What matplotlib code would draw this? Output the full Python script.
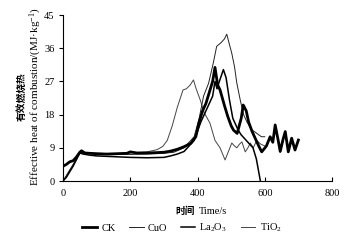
import matplotlib
matplotlib.use("Agg")
import matplotlib.pyplot as plt
from matplotlib.lines import Line2D

# ---- data ----
ck_t = [0, 10, 20, 30, 40, 50, 55, 65, 80, 100, 130, 160, 190, 200, 220, 250, 280, 300,
        320, 340, 360, 380, 395, 405, 415, 425, 435, 445, 452, 460, 467, 480, 490, 500,
        507, 518, 530, 536, 545, 552, 562, 572, 582, 591, 605, 616, 624, 631, 640, 646,
        655, 661, 670, 680, 690, 700]
ck_v = [4.0, 4.5, 5.2, 5.5, 6.5, 7.8, 8.2, 7.6, 7.5, 7.4, 7.3, 7.4, 7.5, 7.9, 7.6, 7.6, 7.7, 7.8,
        8.1, 8.6, 9.3, 10.2, 12.0, 16.0, 19.0, 21.0, 24.0, 27.0, 30.8, 26.0, 24.7, 20.5, 17.5, 15.0,
        13.8, 12.9, 17.0, 20.6, 19.0, 16.0, 13.5, 11.5, 9.5, 7.9, 9.5, 12.0, 10.5, 15.2, 11.0, 8.0,
        11.5, 13.4, 7.9, 11.6, 8.4, 11.1]

cuo_t = [0, 10, 20, 30, 40, 50, 60, 80, 100, 150, 200, 250, 300, 330, 360, 390, 405, 418,
         433, 447, 457, 470, 480, 487, 495, 502, 510, 517, 527, 537, 547, 560, 575, 590, 600]
cuo_v = [0.0, 1.5, 3.0, 4.5, 6.0, 7.8, 7.8, 7.5, 7.4, 7.3, 7.2, 7.3, 7.5, 7.8, 9.0, 12.0, 17.0, 23.0,
         26.5, 32.0, 36.5, 37.5, 38.5, 39.8, 37.0, 34.6, 31.0, 26.5, 22.0, 18.0, 16.0, 14.0, 13.0, 12.0, 12.0]

la_t = [0, 10, 20, 30, 40, 50, 60, 80, 100, 150, 200, 250, 300, 320, 340, 360, 390, 410,
        430, 445, 452, 458, 465, 477, 485, 495, 505, 521, 530, 540, 555, 565, 575, 583, 587]
la_v = [0.0, 1.0, 2.5, 4.0, 5.8, 7.6, 7.3, 7.0, 6.8, 6.6, 6.4, 6.3, 6.4, 6.8, 7.3, 8.0, 11.0, 16.0,
        20.0, 23.0, 27.0, 25.0, 27.0, 30.2, 28.0, 22.0, 17.0, 13.8, 12.5, 11.5, 10.0, 9.0, 6.0, 2.0, 0.0]

ti_t = [0, 10, 20, 30, 40, 50, 60, 80, 100, 150, 200, 250, 280, 297, 310, 325, 340, 357,
        367, 378, 388, 396, 408, 420, 437, 452, 467, 482, 492, 502, 510, 517, 525, 532, 542,
        550, 557, 566, 576, 588, 600]
ti_v = [0.0, 1.2, 2.8, 4.2, 6.0, 7.8, 7.7, 7.5, 7.5, 7.4, 7.6, 7.9, 8.5, 9.4, 11.0, 15.0, 20.0, 24.7,
        25.0, 26.0, 27.4, 25.0, 22.0, 18.5, 15.7, 11.0, 9.0, 5.7, 8.0, 10.3, 9.5, 9.0, 10.0, 10.6, 7.9,
        9.0, 10.3, 9.0, 11.0, 10.0, 9.5]

series_names = ["CK", "CuO", "La$_2$O$_3$", "TiO$_2$"]
x_ticks = [0, 200, 400, 600, 800]
y_ticks = [0, 9, 18, 27, 36, 45]

SERIF = ["Liberation Serif", "DejaVu Serif"]
CJK = ["Noto Sans CJK SC"]
plt.rcParams["font.family"] = SERIF
plt.rcParams["mathtext.fontset"] = "custom"
plt.rcParams["mathtext.rm"] = "Liberation Serif"
plt.rcParams["mathtext.it"] = "Liberation Serif"

fig = plt.figure(figsize=(3.43, 2.43), dpi=100)
ax = fig.add_axes([63 / 343, 1 - 181 / 243, (332 - 63) / 343, (181 - 15) / 243])

ax.plot(ck_t, ck_v, color="black", lw=2.0, label=series_names[0], zorder=5)
ax.plot(cuo_t, cuo_v, color="#222222", lw=0.7, label=series_names[1], zorder=3)
ax.plot(la_t, la_v, color="black", lw=1.1, label=series_names[2], zorder=4)
ax.plot(ti_t, ti_v, color="#444444", lw=0.7, label=series_names[3], zorder=2)

ax.set_xlim(0, 800)
ax.set_ylim(0, 45)
ax.set_xticks(x_ticks)
ax.set_yticks(y_ticks)
ax.spines["top"].set_visible(False)
ax.spines["right"].set_visible(False)
for s in ["left", "bottom"]:
    ax.spines[s].set_linewidth(0.8)
ax.tick_params(axis="x", direction="in", length=3, width=0.8, labelsize=7.5, pad=6)
ax.tick_params(axis="y", direction="out", length=3, width=0.8, labelsize=7.5, pad=3)
for lab in ax.get_xticklabels() + ax.get_yticklabels():
    lab.set_family(SERIF)

# y label: two lines
fig.text(22 / 343, 1 - 97 / 243, "有效燃烧热", rotation=90, ha="center", va="center",
         family=CJK, fontsize=7, fontweight="bold")
fig.text(36 / 343, 1 - 97 / 243, "Effective heat of combustion/(MJ·kg$^{-1}$)", rotation=90,
         ha="center", va="center", family=SERIF, fontsize=8)

# x label
fig.text(197 / 343 - 0.005, 1 - 211 / 243, "时间", ha="right", va="center",
         family=CJK, fontsize=7, fontweight="bold")
fig.text(197 / 343 + 0.005, 1 - 211 / 243, "Time/s", ha="left", va="center",
         family=SERIF, fontsize=7.5)

handles = [Line2D([], [], color="black", lw=2.0),
           Line2D([], [], color="#222222", lw=0.7),
           Line2D([], [], color="black", lw=1.1),
           Line2D([], [], color="#444444", lw=0.7)]
fig.legend(handles, series_names, loc="center", bbox_to_anchor=(182 / 343, 1 - 228 / 243),
           ncol=4, frameon=False, fontsize=7.5, handlelength=1.4, handletextpad=0.4,
           columnspacing=1.3, borderpad=0, borderaxespad=0)

fig.savefig("out.png", dpi=100)
